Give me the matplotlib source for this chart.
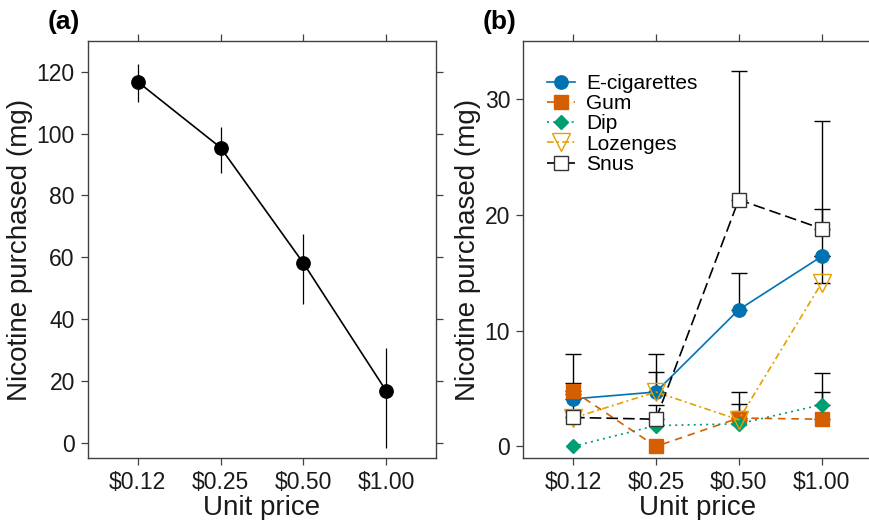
import numpy as np
import matplotlib
matplotlib.use('Agg')
import matplotlib.pyplot as plt

plt.rcParams['font.family'] = ['Liberation Sans', 'DejaVu Sans']

# data
prices = ['$0.12', '$0.25', '$0.50', '$1.00']

total_mean = [116.8, 95.5, 58.1, 16.7]
total_lo = [110.2, 87.3, 44.9, -1.9]
total_hi = [122.6, 102.0, 67.4, 30.7]

products = ['E-cigarettes', 'Gum', 'Dip', 'Lozenges', 'Snus']
ecig = [4.1, 4.7, 11.8, 16.4]
gum = [4.8, 0.0, 2.45, 2.35]
dip = [0.0, 1.8, 1.95, 3.6]
lozenges = [2.45, 4.7, 2.3, 14.1]
snus = [2.5, 2.35, 21.3, 18.8]

# top of the one-sided error bars (nan = no bar)
ecig_hi = [8.0, 8.0, 15.0, 20.5]
gum_hi = [5.5, np.nan, 3.7, 4.7]
dip_hi = [np.nan, np.nan, np.nan, 6.3]
lozenges_hi = [np.nan, 6.4, 4.7, 16.4]
snus_hi = [4.5, 3.6, 32.4, 28.1]

spine_col = '#404040'
text_col = '#1a1a1a'

fig = plt.figure(figsize=(8.7, 5.2), dpi=100)
ax1 = fig.add_axes([0.1011, 0.1192, 0.4, 0.802])
ax2 = fig.add_axes([0.6015, 0.1192, 0.4, 0.802])

x = np.arange(len(prices))

# panel (a)
m = np.array(total_mean)
yerr = [m - np.array(total_lo), np.array(total_hi) - m]
ax1.errorbar(x, m, yerr=yerr, fmt='none', ecolor='black', elinewidth=0.9, capsize=0)
ax1.plot(x, m, '-', color='black', linewidth=1.2, marker='o', markersize=9.6)
ax1.set_ylim(-5, 130)
ax1.set_yticks([0, 20, 40, 60, 80, 100, 120])

# panel (b)
series = [
    (ecig, ecig_hi, '#0072B2', '-', 'o', 9.6, True),
    (gum, gum_hi, '#D55E00', (0, (4.5, 3.5)), 's', 10.4, True),
    (dip, dip_hi, '#009E73', (0, (1.2, 2.5)), 'D', 6.8, True),
    (lozenges, lozenges_hi, '#E69F00', (0, (4, 2, 1.2, 2)), 'v', 12.5, False),
    (snus, snus_hi, '#000000', (0, (7, 3)), 's', 10.4, False),
]
for (vals, hi, col, ls, mk, ms, filled), name in zip(series, products):
    v = np.array(vals)
    up = np.array(hi) - v
    ok = ~np.isnan(up)
    ax2.errorbar(x[ok], v[ok], yerr=[np.zeros(ok.sum()), up[ok]], fmt='none',
                 ecolor='black', elinewidth=1.0, capsize=5.5, capthick=1.0, zorder=2)
    ax2.plot(x, v, linestyle=ls, color=col, linewidth=1.2, marker=mk, markersize=ms,
             markerfacecolor=col if filled else 'white' if name == 'Snus' else 'none',
             markeredgecolor=col if name != 'Snus' else '#333333',
             markeredgewidth=1.0, label=name, zorder=3)
ax2.set_ylim(-1, 35)
ax2.set_yticks([0, 10, 20, 30])

for ax in (ax1, ax2):
    ax.set_xlim(-0.6, 3.6)
    ax.set_xticks(x)
    ax.set_xticklabels(prices)
    ax.tick_params(direction='out', length=5, width=0.9, color=spine_col,
                   top=True, right=True, labelsize=16.5, labelcolor=text_col)
    ax.tick_params(axis='y', pad=4.5)
    ax.tick_params(axis='x', pad=4)
    for s in ax.spines.values():
        s.set_color(spine_col)
        s.set_linewidth(1.0)
    ax.set_xlabel('Unit price', fontsize=20, labelpad=1, color=text_col)
    ax.set_ylabel('Nicotine purchased (mg)', fontsize=20, labelpad=2.5, color=text_col)

ax2.spines['right'].set_visible(False)

leg = ax2.legend(loc='upper left', bbox_to_anchor=(0.069, 0.921), frameon=False,
                 fontsize=15, handlelength=1.35, handletextpad=0.5,
                 labelspacing=0.06, borderpad=0, borderaxespad=0)

fig.text(0.055, 0.957, '(a)', fontsize=19, fontweight='bold', ha='left', va='center')
fig.text(0.555, 0.957, '(b)', fontsize=19, fontweight='bold', ha='left', va='center')

fig.savefig('out.png', dpi=100)
